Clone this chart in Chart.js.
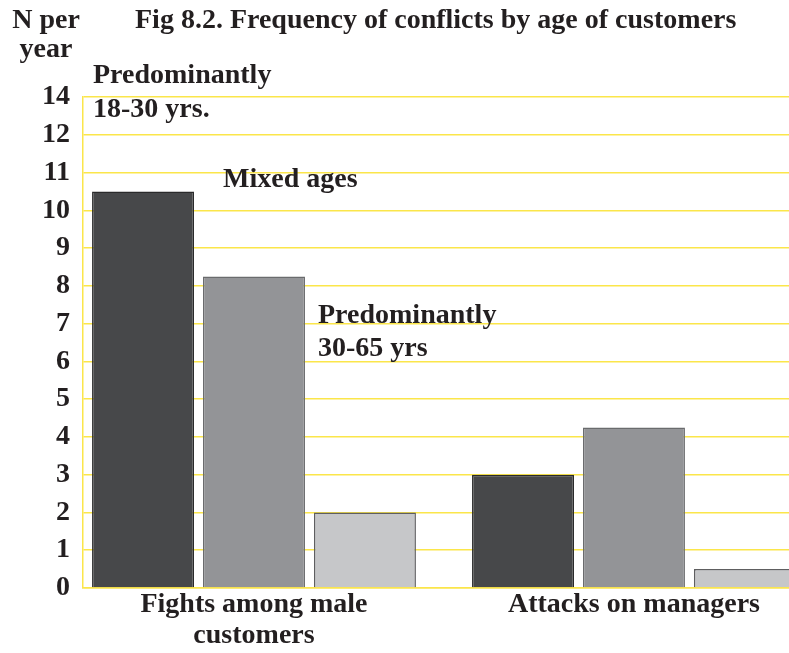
<!DOCTYPE html>
<html>
<head>
<meta charset="utf-8">
<script src="https://cdn.jsdelivr.net/npm/chart.js@4"></script>
<style>
    html, body { margin: 0; padding: 0; background: #fff; }
</style>
</head>
<body>
<canvas id="conflictChart" width="789" height="653"></canvas>
<script>
// categories sit at x = 0 and x = 1 on a linear axis
const categories = [['Fights among male', 'customers'], ['Attacks on managers']];
const categoryPos = [0, 1];

// N per year, by age group of customers
const young = [10.5, 3.0];   // predominantly 18-30 yrs
const mixed = [8.25, 4.25];  // mixed ages
const older = [2.0, 0.5];    // predominantly 30-65 yrs

// tick labels as printed (top line is labelled 14)
const yTickLabels = ['0', '1', '2', '3', '4', '5', '6', '7', '8', '9', '10', '11', '12', '14'];

const INK = '#231f20';
const GRID = '#fbe64a';
const FONT = '"Liberation Serif", "Times New Roman", serif';
const SIZE = 28;

const textPlugin = {
    id: 'texts',
    afterDraw(chart) {
        const ctx = chart.ctx;
        const xs = chart.scales.x;
        ctx.save();
        ctx.fillStyle = INK;
        ctx.font = `bold ${SIZE}px ${FONT}`;
        ctx.textBaseline = 'alphabetic';

        ctx.textAlign = 'left';
        ctx.fillText('Fig 8.2. Frequency of conflicts by age of customers', 135, 28);

        ctx.textAlign = 'center';
        ctx.fillText('N per', 46, 28);
        ctx.fillText('year', 46, 57);

        // category labels under each group of bars
        categories.forEach((lines, i) => {
            const cx = xs.getPixelForValue(categoryPos[i]);
            lines.forEach((line, j) => ctx.fillText(line, cx, xs.top + 24 + j * 31));
        });

        // group annotations
        ctx.textAlign = 'left';
        ctx.fillText('Predominantly', 93, 83);
        ctx.fillText('18-30 yrs.', 93, 117);
        ctx.fillText('Mixed ages', 223, 187);
        ctx.fillText('Predominantly', 318, 323);
        ctx.fillText('30-65 yrs', 318, 356);
        ctx.restore();
    }
};

function toPoints(values) {
    return values.map((v, i) => ({ x: categoryPos[i], y: v }));
}

const ctx = document.getElementById('conflictChart').getContext('2d');
new Chart(ctx, {
    type: 'bar',
    data: {
        datasets: [
            { label: 'Predominantly 18-30 yrs.', data: toPoints(young), backgroundColor: '#47484a', borderColor: '#2a2a2b', borderWidth: 1.5 },
            { label: 'Mixed ages', data: toPoints(mixed), backgroundColor: '#939497', borderColor: '#6a6b6d', borderWidth: 1.5 },
            { label: 'Predominantly 30-65 yrs', data: toPoints(older), backgroundColor: '#c6c7c9', borderColor: '#5e5e60', borderWidth: 1.5 }
        ]
    },
    options: {
        responsive: false,
        animation: false,
        barPercentage: 0.919,
        categoryPercentage: 0.876,
        layout: { padding: { top: 97, left: 0, right: 0, bottom: 0 } },
        plugins: {
            legend: { display: false },
            tooltip: { enabled: false }
        },
        scales: {
            x: {
                type: 'linear',
                offset: false,
                min: -0.45,
                max: 1.408,
                grid: { display: false, drawTicks: false },
                border: { display: true, color: GRID, width: 1.5 },
                afterBuildTicks: (scale) => { scale.ticks = categoryPos.map(v => ({ value: v })); },
                afterFit: (scale) => { scale.height = 65; },
                ticks: { display: false }
            },
            y: {
                min: 0,
                max: 13,
                grid: { color: GRID, lineWidth: 1.5, drawTicks: false },
                border: { display: true, color: GRID, width: 1.5 },
                afterFit: (scale) => { scale.width = 83; },
                ticks: {
                    stepSize: 1,
                    padding: 13,
                    color: INK,
                    font: { family: FONT, size: SIZE, weight: 'bold' },
                    callback: (value) => yTickLabels[value]
                }
            }
        }
    },
    plugins: [textPlugin]
});
</script>
</body>
</html>
